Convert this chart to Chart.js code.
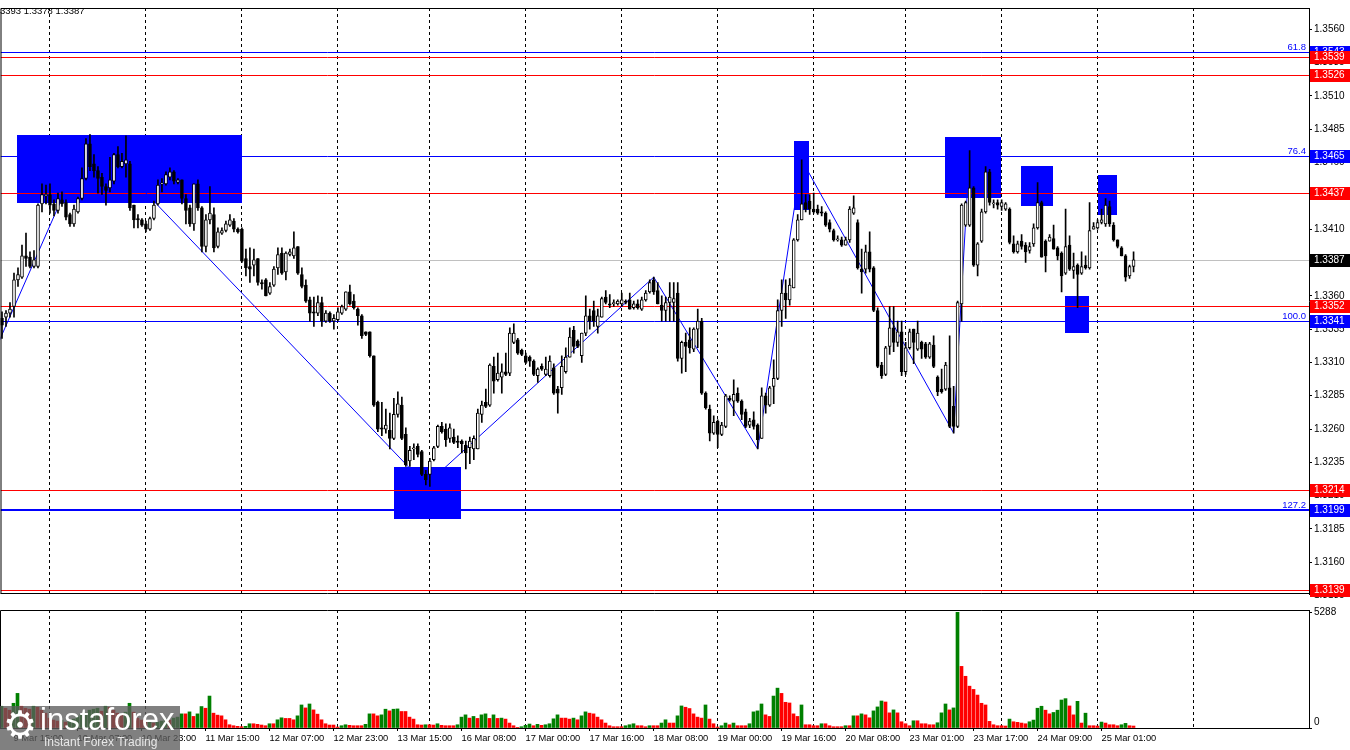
<!DOCTYPE html>
<html>
<head>
<meta charset="utf-8">
<script src="https://cdn.jsdelivr.net/npm/chart.js@4.4.0/dist/chart.umd.min.js"></script>
<style>
html,body{margin:0;padding:0;background:#fff;width:1350px;height:750px;overflow:hidden;}
#p{position:absolute;left:0;top:0;}
#v{position:absolute;left:0;top:602px;}
#logo{position:absolute;left:0;top:706px;width:180px;height:44px;background:rgba(92,92,92,0.78);overflow:hidden;}
#logo .g{position:absolute;left:3px;top:-3px;font:38px 'DejaVu Sans';color:#fff;}
#logo .t{position:absolute;left:40px;top:-4px;font:31px 'Liberation Sans',sans-serif;color:#fff;}
#logo .s{position:absolute;left:44px;top:29px;font:12px 'Liberation Sans',sans-serif;color:#e8e8e8;}
</style>
</head>
<body>
<canvas id="p" width="1350" height="602"></canvas>
<canvas id="v" width="1350" height="148"></canvas>
<div id="logo"><span class="g">&#9881;</span><span class="t">instaforex</span><span class="s">Instant Forex Trading</span></div>
<script>
// ---------------- DATA (GBPUSD H1) ----------------
const openP = [
1.3343,1.3344,1.3347,1.3352,1.3372,1.3374,1.3390,1.3389,1.3382,1.3382,
1.3429,1.3435,1.3436,1.3429,1.3424,1.3432,1.3430,1.3421,1.3414,1.3423,
1.3433,1.3448,1.3474,1.3459,1.3454,1.3449,1.3442,1.3441,1.3446,1.3466,
1.3457,1.3459,1.3459,1.3428,1.3418,1.3417,1.3414,1.3410,1.3418,1.3429,
1.3444,1.3444,1.3449,1.3453,1.3445,1.3447,1.3433,1.3426,1.3414,1.3444,
1.3426,1.3397,1.3417,1.3421,1.3397,1.3407,1.3409,1.3413,1.3416,1.3410,
1.3410,1.3388,1.3382,1.3383,1.3388,1.3370,1.3372,1.3362,1.3368,1.3381,
1.3392,1.3378,1.3391,1.3390,1.3397,1.3376,1.3368,1.3357,1.3348,1.3347,
1.3355,1.3341,1.3347,1.3341,1.3342,1.3347,1.3350,1.3363,1.3356,1.3350,
1.3345,1.3333,1.3333,1.3315,1.3280,1.3261,1.3260,1.3259,1.3253,1.3271,
1.3278,1.3256,1.3236,1.3245,1.3247,1.3243,1.3226,1.3226,1.3237,1.3247,
1.3262,1.3260,1.3253,1.3254,1.3251,1.3251,1.3248,1.3246,1.3245,1.3245,
1.3271,1.3280,1.3278,1.3307,1.3297,1.3299,1.3303,1.3302,1.3325,1.3327,
1.3319,1.3315,1.3314,1.3311,1.3300,1.3307,1.3301,1.3300,1.3306,1.3290,
1.3291,1.3303,1.3314,1.3334,1.3326,1.3315,1.3332,1.3345,1.3349,1.3337,
1.3344,1.3359,1.3354,1.3354,1.3354,1.3354,1.3356,1.3357,1.3351,1.3354,
1.3350,1.3357,1.3363,1.3372,1.3364,1.3353,1.3349,1.3355,1.3355,1.3362,
1.3313,1.3325,1.3327,1.3320,1.3335,1.3341,1.3287,1.3275,1.3257,1.3266,
1.3256,1.3262,1.3283,1.3281,1.3287,1.3281,1.3273,1.3263,1.3267,1.3263,
1.3253,1.3285,1.3278,1.3292,1.3298,1.3349,1.3362,1.3357,1.3366,1.3402,
1.3417,1.3430,1.3431,1.3425,1.3425,1.3423,1.3422,1.3415,1.3409,1.3402,
1.3402,1.3398,1.3402,1.3422,1.3415,1.3380,1.3380,1.3393,1.3381,1.3349,
1.3308,1.3301,1.3322,1.3336,1.3325,1.3333,1.3303,1.3321,1.3335,1.3320,
1.3325,1.3324,1.3314,1.3323,1.3299,1.3290,1.3290,1.3291,1.3277,1.3262,
1.3354,1.3413,1.3413,1.3441,1.3383,1.3401,1.3423,1.3453,1.3429,1.3430,
1.3427,1.3425,1.3425,1.3399,1.3393,1.3401,1.3398,1.3394,1.3399,1.3411,
1.3430,1.3401,1.3401,1.3403,1.3396,1.3392,1.3377,1.3398,1.3379,1.3383,
1.3377,1.3383,1.3381,1.3410,1.3411,1.3415,1.3414,1.3427,1.3413,1.3402,
1.3396,1.3390,1.3375,1.3382];
const highP = [
1.3348,1.3349,1.3355,1.3377,1.3381,1.3398,1.3407,1.3393,1.3394,1.3429,
1.3444,1.3443,1.3444,1.3432,1.3437,1.3438,1.3432,1.3422,1.3428,1.3434,
1.3456,1.3478,1.3481,1.3466,1.3457,1.3452,1.3444,1.3464,1.3467,1.3472,
1.3467,1.3480,1.3461,1.3428,1.3421,1.3418,1.3416,1.3419,1.3431,1.3447,
1.3448,1.3453,1.3456,1.3454,1.3448,1.3447,1.3436,1.3428,1.3444,1.3447,
1.3427,1.3421,1.3442,1.3426,1.3411,1.3411,1.3416,1.3421,1.3418,1.3411,
1.3411,1.3395,1.3396,1.3395,1.3388,1.3372,1.3373,1.3370,1.3382,1.3396,
1.3396,1.3393,1.3395,1.3408,1.3397,1.3381,1.3372,1.3359,1.3359,1.3360,
1.3359,1.3349,1.3348,1.3346,1.3351,1.3353,1.3363,1.3368,1.3361,1.3351,
1.3346,1.3333,1.3333,1.3315,1.3281,1.3280,1.3275,1.3272,1.3283,1.3288,
1.3284,1.3261,1.3247,1.3249,1.3249,1.3244,1.3229,1.3238,1.3247,1.3263,
1.3265,1.3264,1.3264,1.3260,1.3255,1.3252,1.3251,1.3254,1.3255,1.3275,
1.3281,1.3290,1.3309,1.3314,1.3317,1.3309,1.3317,1.3336,1.3339,1.3328,
1.3320,1.3317,1.3315,1.3312,1.3306,1.3309,1.3314,1.3315,1.3309,1.3292,
1.3315,1.3321,1.3336,1.3337,1.3327,1.3332,1.3360,1.3350,1.3356,1.3350,
1.3359,1.3364,1.3361,1.3357,1.3357,1.3362,1.3357,1.3362,1.3356,1.3357,
1.3359,1.3364,1.3372,1.3374,1.3370,1.3360,1.3359,1.3370,1.3370,1.3370,
1.3326,1.3332,1.3336,1.3336,1.3350,1.3343,1.3288,1.3278,1.3270,1.3267,
1.3265,1.3286,1.3285,1.3297,1.3291,1.3282,1.3275,1.3268,1.3273,1.3264,
1.3291,1.3287,1.3292,1.3312,1.3357,1.3372,1.3372,1.3373,1.3403,1.3421,
1.3462,1.3436,1.3436,1.3437,1.3428,1.3427,1.3423,1.3417,1.3410,1.3405,
1.3404,1.3404,1.3427,1.3435,1.3417,1.3395,1.3398,1.3408,1.3382,1.3351,
1.3310,1.3322,1.3352,1.3352,1.3341,1.3341,1.3325,1.3335,1.3335,1.3341,
1.3326,1.3325,1.3325,1.3330,1.3300,1.3305,1.3310,1.3330,1.3292,1.3356,
1.3429,1.3431,1.3469,1.3442,1.3400,1.3425,1.3457,1.3455,1.3432,1.3432,
1.3432,1.3430,1.3426,1.3405,1.3401,1.3406,1.3400,1.3400,1.3414,1.3445,
1.3431,1.3402,1.3406,1.3413,1.3397,1.3393,1.3425,1.3405,1.3392,1.3384,
1.3393,1.3390,1.3430,1.3415,1.3417,1.3425,1.3433,1.3431,1.3415,1.3402,
1.3397,1.3391,1.3383,1.3393];
const lowP = [
1.3328,1.3337,1.3344,1.3344,1.3367,1.3373,1.3382,1.3381,1.3381,1.3381,
1.3423,1.3429,1.3422,1.3420,1.3422,1.3427,1.3417,1.3412,1.3412,1.3422,
1.3432,1.3447,1.3454,1.3449,1.3437,1.3436,1.3428,1.3438,1.3444,1.3456,
1.3456,1.3449,1.3424,1.3411,1.3411,1.3412,1.3408,1.3409,1.3417,1.3428,
1.3438,1.3443,1.3447,1.3444,1.3444,1.3429,1.3414,1.3412,1.3409,1.3424,
1.3393,1.3393,1.3414,1.3393,1.3396,1.3406,1.3408,1.3412,1.3408,1.3407,
1.3385,1.3375,1.3370,1.3375,1.3368,1.3365,1.3360,1.3361,1.3367,1.3376,
1.3376,1.3372,1.3390,1.3388,1.3376,1.3366,1.3355,1.3341,1.3337,1.3345,
1.3337,1.3340,1.3340,1.3335,1.3341,1.3346,1.3349,1.3353,1.3350,1.3338,
1.3328,1.3330,1.3314,1.3277,1.3258,1.3255,1.3257,1.3245,1.3252,1.3269,
1.3252,1.3232,1.3232,1.3237,1.3239,1.3225,1.3218,1.3217,1.3236,1.3246,
1.3257,1.3247,1.3250,1.3249,1.3246,1.3242,1.3230,1.3234,1.3237,1.3245,
1.3265,1.3276,1.3277,1.3287,1.3296,1.3287,1.3300,1.3300,1.3324,1.3316,
1.3315,1.3309,1.3307,1.3300,1.3295,1.3304,1.3300,1.3299,1.3286,1.3272,
1.3286,1.3302,1.3314,1.3317,1.3321,1.3310,1.3330,1.3335,1.3337,1.3332,
1.3344,1.3354,1.3351,1.3352,1.3353,1.3352,1.3354,1.3350,1.3350,1.3350,
1.3349,1.3356,1.3362,1.3361,1.3354,1.3341,1.3341,1.3341,1.3341,1.3311,
1.3302,1.3303,1.3317,1.3318,1.3321,1.3286,1.3275,1.3251,1.3256,1.3246,
1.3255,1.3261,1.3281,1.3270,1.3280,1.3267,1.3261,1.3261,1.3260,1.3245,
1.3253,1.3272,1.3277,1.3279,1.3297,1.3337,1.3343,1.3353,1.3366,1.3401,
1.3417,1.3423,1.3421,1.3422,1.3421,1.3420,1.3412,1.3408,1.3401,1.3401,
1.3397,1.3398,1.3400,1.3421,1.3380,1.3362,1.3377,1.3378,1.3348,1.3306,
1.3298,1.3300,1.3316,1.3318,1.3322,1.3300,1.3301,1.3320,1.3309,1.3319,
1.3313,1.3313,1.3313,1.3306,1.3285,1.3287,1.3289,1.3261,1.3257,1.3261,
1.3341,1.3412,1.3412,1.3382,1.3375,1.3400,1.3422,1.3428,1.3426,1.3425,
1.3424,1.3424,1.3399,1.3392,1.3392,1.3395,1.3385,1.3392,1.3397,1.3410,
1.3389,1.3378,1.3401,1.3395,1.3387,1.3363,1.3376,1.3379,1.3373,1.3351,
1.3376,1.3380,1.3380,1.3410,1.3410,1.3414,1.3412,1.3412,1.3401,1.3396,
1.3390,1.3371,1.3373,1.3378];
const closeP = [
1.3338,1.3347,1.3350,1.3372,1.3376,1.3390,1.3388,1.3382,1.3387,1.3428,
1.3436,1.3436,1.3428,1.3424,1.3433,1.3429,1.3419,1.3414,1.3425,1.3433,
1.3448,1.3474,1.3457,1.3454,1.3448,1.3442,1.3439,1.3447,1.3466,1.3457,
1.3461,1.3462,1.3426,1.3417,1.3417,1.3413,1.3410,1.3418,1.3428,1.3443,
1.3444,1.3451,1.3453,1.3446,1.3447,1.3433,1.3424,1.3414,1.3444,1.3426,
1.3397,1.3417,1.3422,1.3396,1.3408,1.3409,1.3414,1.3417,1.3410,1.3408,
1.3386,1.3381,1.3380,1.3387,1.3370,1.3369,1.3360,1.3367,1.3380,1.3391,
1.3377,1.3392,1.3393,1.3396,1.3377,1.3367,1.3356,1.3347,1.3347,1.3355,
1.3341,1.3347,1.3341,1.3343,1.3348,1.3352,1.3363,1.3354,1.3351,1.3345,
1.3330,1.3331,1.3315,1.3278,1.3260,1.3260,1.3263,1.3253,1.3271,1.3279,
1.3253,1.3233,1.3244,1.3246,1.3241,1.3226,1.3222,1.3236,1.3246,1.3262,
1.3258,1.3252,1.3261,1.3250,1.3250,1.3249,1.3242,1.3251,1.3253,1.3272,
1.3278,1.3277,1.3308,1.3296,1.3302,1.3303,1.3301,1.3332,1.3332,1.3317,
1.3316,1.3310,1.3311,1.3301,1.3305,1.3305,1.3305,1.3311,1.3287,1.3287,
1.3307,1.3314,1.3329,1.3322,1.3322,1.3332,1.3345,1.3341,1.3341,1.3345,
1.3358,1.3355,1.3353,1.3355,1.3356,1.3357,1.3355,1.3350,1.3354,1.3351,
1.3357,1.3362,1.3370,1.3363,1.3354,1.3349,1.3355,1.3359,1.3358,1.3313,
1.3325,1.3322,1.3321,1.3335,1.3341,1.3287,1.3276,1.3257,1.3265,1.3256,
1.3263,1.3285,1.3282,1.3286,1.3281,1.3271,1.3262,1.3266,1.3262,1.3252,
1.3285,1.3278,1.3291,1.3298,1.3349,1.3362,1.3357,1.3368,1.3402,1.3417,
1.3429,1.3425,1.3425,1.3423,1.3422,1.3422,1.3413,1.3410,1.3402,1.3402,
1.3398,1.3402,1.3425,1.3426,1.3381,1.3378,1.3393,1.3380,1.3349,1.3307,
1.3300,1.3321,1.3336,1.3325,1.3333,1.3303,1.3321,1.3333,1.3325,1.3332,
1.3320,1.3314,1.3324,1.3307,1.3288,1.3288,1.3308,1.3262,1.3262,1.3355,
1.3428,1.3430,1.3441,1.3383,1.3399,1.3423,1.3453,1.3430,1.3429,1.3428,
1.3430,1.3429,1.3400,1.3393,1.3399,1.3397,1.3393,1.3397,1.3411,1.3430,
1.3389,1.3390,1.3404,1.3395,1.3390,1.3375,1.3397,1.3380,1.3382,1.3376,
1.3382,1.3381,1.3409,1.3412,1.3415,1.3417,1.3428,1.3414,1.3402,1.3397,
1.3390,1.3374,1.3382,1.3387];
const volumes = [
994,904,814,1130,1582,994,904,859,994,949,814,678,452,362,316,362,271,316,407,542,
633,678,814,859,904,768,994,949,814,678,588,723,1130,723,452,362,271,316,226,271,
316,407,362,452,497,
646,646,737,529,646,981,904,1460,678,588,
556,375,149,104,77,59,77,194,194,167,
136,104,194,194,375,466,438,438,375,556,
1053,918,1098,827,633,375,194,136,136,45,
104,149,122,104,104,104,167,646,646,556,
601,859,782,859,872,755,755,497,407,149,
136,149,149,136,194,122,104,104,104,149,
497,601,452,529,438,601,646,438,601,438,
452,407,226,104,32,59,122,181,104,167,
122,149,194,420,601,452,452,407,
452,375,556,737,678,646,497,375,226,104,
59,59,59,104,149,194,104,104,59,104,
104,104,226,375,226,226,556,1008,949,890,
646,497,452,1053,407,194,45,104,226,149,
226,104,104,104,194,737,782,1098,601,529,
1460,1822,1582,1175,1144,646,529,1053,149,149,
104,104,194,194,104,59,59,59,104,104,
556,556,646,601,466,782,963,1234,1189,692,
827,692,285,194,104,330,330,194,194,149,
149,240,692,1098,827,918,
5288,2816,2364,1912,1763,1505,1130,1053,303,149,
104,104,90,407,285,258,226,194,285,362,
904,994,814,646,710,814,1279,1342,1008,601,
1220,226,678,104,104,90,271,226,149,149,
104,149,212,104,90];
const volumeTop = 5288;

const dayGridIdx = [12,36,60,84,107,131,155,179,203,226,250,274,298];
const timeLabelIdx = [3,19,35,51,67,83,99,115,131,147,163,179,195,211,227,243,259,275];
const timeLabels = ["9 Mar 15:00","10 Mar 07:00","10 Mar 23:00","11 Mar 15:00","12 Mar 07:00","12 Mar 23:00",
  "13 Mar 15:00","16 Mar 08:00","17 Mar 00:00","17 Mar 16:00","18 Mar 08:00","19 Mar 00:00",
  "19 Mar 16:00","20 Mar 08:00","23 Mar 01:00","23 Mar 17:00","24 Mar 09:00","25 Mar 01:00"];
const priceTicks = [1.3135,1.3160,1.3185,1.3210,1.3235,1.3260,1.3285,1.3310,1.3335,1.3360,
  1.3385,1.3410,1.3435,1.3460,1.3485,1.3510,1.3535,1.3560];

const levelPrices = [1.3543,1.3539,1.3526,1.3465,1.3437,1.3387,1.3352,1.3341,1.3214,1.3199,1.3139];
const levelKinds  = ["fib","res","res","fib","res","bid","res","fib","res","fib","res"];
const fibLevelPrices = [1.3543,1.3465,1.3341,1.3199];
const fibLevelTexts  = ["61.8","76.4","100.0","127.2"];

const zoneStart = [3.85, 98, 198, 235.9, 254.9, 265.9, 274.05];
const zoneEnd   = [59.9, 114.8, 201.85, 249.85, 262.85, 271.9, 278.85];
const zoneHigh  = [1.34807, 1.32315, 1.3476, 1.3479, 1.34574, 1.33598, 1.34504];
const zoneLow   = [1.34296, 1.31923, 1.34242, 1.34332, 1.34274, 1.33321, 1.34204];

const zigIdx   = [-1, 22, 106, 163, 189, 200, 238, 242];
const zigPrice = [1.3324, 1.3481, 1.3218, 1.3374, 1.3245, 1.3462, 1.3257, 1.3469];

const headerText = "3393 1.3378 1.3387";

// ---------------- STYLE / LAYOUT ----------------
const FONT = "'Liberation Sans', Arial, sans-serif";
const KIND_COLOR = {fib:'#0000ff', res:'#ff0000', bid:'#c0c0c0'};
const KIND_BOX = {fib:'#0000ff', res:'#ff0000', bid:'#000000'};
const X0 = 1.5, PXB = 4;               // first bar centre, pixels per bar
const P_REF = 1.3560, Y_REF = 29.3, PX_PER_UNIT = 13325;
const VOL_TOP_Y = 10.3;                // local y of volumeTop in volume canvas
const AXIS_W = 41;

Chart.defaults.font.family = FONT;
Chart.defaults.color = '#000';

const N = closeP.length;
const idx = Array.from({length:N}, (_, i) => i);
const bodies = idx.map(i => ({x:i, y:[openP[i], closeP[i]]}));
const wicks  = idx.map(i => ({x:i, y:[lowP[i], highP[i]]}));
const bodyColors = idx.map(i => closeP[i] >= openP[i] ? '#ffffff' : '#000000');
const zig = zigIdx.map((v, k) => ({x:v, y:zigPrice[k]}));
const vols = volumes.map((v, i) => ({x:i, y:v}));
const volColors = volumes.map((v, i) => (i === 0 || v > volumes[i-1]) ? '#008000' : '#ff0000');

function hLine(ctx, a, y, w, color) {
  ctx.strokeStyle = color; ctx.lineWidth = w;
  const yy = Math.round(y) + (w % 2 ? 0.5 : 0);
  ctx.beginPath(); ctx.moveTo(a.left, yy); ctx.lineTo(a.right, yy); ctx.stroke();
}

const pricePlugin = {
  id: 'pricePlugin',
  beforeDatasetsDraw(chart) {
    const {ctx, chartArea: a, scales: {x, y}} = chart;
    ctx.save();
    ctx.beginPath(); ctx.rect(a.left, a.top, a.right - a.left, a.bottom - a.top); ctx.clip();
    ctx.fillStyle = '#0000ff';
    for (let k = 0; k < zoneStart.length; k++) {
      const x0 = Math.round(x.getPixelForValue(zoneStart[k]));
      const x1 = Math.round(x.getPixelForValue(zoneEnd[k]));
      const y0 = Math.round(y.getPixelForValue(zoneHigh[k]));
      const y1 = Math.round(y.getPixelForValue(zoneLow[k]));
      ctx.fillRect(x0, y0, x1 - x0, y1 - y0);
    }
    for (let k = 0; k < levelPrices.length; k++) {
      const w = levelPrices[k] === 1.3199 ? 2 : 1;
      hLine(ctx, a, y.getPixelForValue(levelPrices[k]), w, KIND_COLOR[levelKinds[k]]);
    }
    ctx.restore();
  },
  afterDraw(chart) {
    const {ctx, chartArea: a, scales: {y}} = chart;
    ctx.save();
    // frame
    ctx.strokeStyle = '#000'; ctx.lineWidth = 1;
    ctx.beginPath();
    ctx.moveTo(a.left + 0.5, a.bottom - 0.5); ctx.lineTo(a.left + 0.5, a.top + 0.5); ctx.lineTo(a.right, a.top + 0.5);
    ctx.moveTo(a.left, a.bottom - 0.5); ctx.lineTo(a.right, a.bottom - 0.5);
    ctx.stroke();
    // fibo texts
    ctx.font = "9.5px " + FONT; ctx.fillStyle = '#0000ff'; ctx.textAlign = 'right'; ctx.textBaseline = 'alphabetic';
    fibLevelPrices.forEach((p, k) => {
      ctx.fillText(fibLevelTexts[k], a.right - 3, Math.round(y.getPixelForValue(p)) - 2);
    });
    // axis price boxes
    ctx.font = "10px " + FONT; ctx.textAlign = 'left'; ctx.textBaseline = 'middle';
    levelPrices.forEach((p, k) => {
      const yy = Math.round(y.getPixelForValue(p));
      ctx.fillStyle = KIND_BOX[levelKinds[k]];
      ctx.fillRect(a.right + 1, yy - 6, chart.width - a.right - 1, 13);
      ctx.fillStyle = '#ffffff';
      ctx.fillText(p.toFixed(4), a.right + 5, yy + 0.5);
    });
    // header
    ctx.font = "9.5px " + FONT; ctx.fillStyle = '#000'; ctx.textBaseline = 'alphabetic';
    ctx.fillText(headerText, 0, 14);
    ctx.restore();
  }
};

const volPlugin = {
  id: 'volPlugin',
  afterDraw(chart) {
    const {ctx, chartArea: a} = chart;
    ctx.save();
    ctx.strokeStyle = '#000'; ctx.lineWidth = 1;
    ctx.beginPath();
    ctx.moveTo(a.left + 0.5, a.bottom); ctx.lineTo(a.left + 0.5, a.top + 0.5); ctx.lineTo(a.right, a.top + 0.5);
    ctx.stroke();
    ctx.restore();
  }
};

const commonXGrid = {
  type: 'linear', offset: false, min: -0.375, max: 326.875,
  grid: {display: true, offset: false, drawOnChartArea: true, drawTicks: false, color: '#000', lineWidth: 1},
  border: {display: false, dash: [3, 3]},
  ticks: {display: false},
  afterBuildTicks: s => { s.ticks = dayGridIdx.map(v => ({value: v})); },
  afterFit: s => { s.height = 0; }
};

const priceChart = new Chart(document.getElementById('p'), {
  type: 'bar',
  data: {
    datasets: [
      {type: 'bar', data: bodies, backgroundColor: bodyColors, borderColor: '#000', borderWidth: 1,
       borderSkipped: false, barThickness: 3, minBarLength: 1, grouped: false, order: 0},
      {type: 'bar', data: wicks, backgroundColor: '#000', borderWidth: 0, barThickness: 1,
       grouped: false, order: 1},
      {type: 'line', data: zig, borderColor: '#0000ff', borderWidth: 1, pointRadius: 0,
       tension: 0, fill: false, order: 2}
    ]
  },
  options: {
    responsive: false, animation: false, devicePixelRatio: 1, events: [],
    layout: {padding: {top: 1, bottom: 1, left: 0, right: 0}},
    plugins: {legend: {display: false}, tooltip: {enabled: false}, title: {display: false}},
    scales: {
      x: Object.assign({}, commonXGrid),
      y: {
        type: 'linear', position: 'right', min: 1.31302, max: 1.35798,
        grid: {drawOnChartArea: false, drawTicks: true, tickLength: 3, color: '#000'},
        border: {display: true, color: '#000', width: 1},
        ticks: {color: '#000', font: {size: 10, family: FONT}, padding: 2, autoSkip: false,
                callback: v => Number(v).toFixed(4)},
        afterBuildTicks: s => { s.ticks = priceTicks.map(v => ({value: v})); },
        afterFit: s => { s.width = AXIS_W; }
      }
    }
  },
  plugins: [pricePlugin]
});

const volChart = new Chart(document.getElementById('v'), {
  type: 'bar',
  data: {
    datasets: [
      {type: 'bar', data: vols, backgroundColor: volColors, borderWidth: 0, barThickness: 3,
       grouped: false, xAxisID: 'x', yAxisID: 'y'}
    ]
  },
  options: {
    responsive: false, animation: false, devicePixelRatio: 1, events: [],
    layout: {padding: {top: 2, bottom: 0, left: 0, right: 0}},
    plugins: {legend: {display: false}, tooltip: {enabled: false}},
    scales: {
      x: {
        type: 'linear', position: 'bottom', offset: false, min: -0.375, max: 326.875,
        grid: {display: true, offset: false, drawOnChartArea: false, drawTicks: true, tickLength: 3, color: '#000'},
        border: {display: true, color: '#000', width: 1},
        ticks: {color: '#000', font: {size: 9.3, family: FONT}, align: 'start', padding: 2,
                autoSkip: false, maxRotation: 0, minRotation: 0,
                callback: v => { const k = timeLabelIdx.indexOf(v); return k >= 0 ? timeLabels[k] : ''; }},
        afterBuildTicks: s => { s.ticks = timeLabelIdx.map(v => ({value: v})); },
        afterFit: s => { s.height = 22; }
      },
      xg: Object.assign({}, commonXGrid, {position: 'bottom'}),
      y: {
        type: 'linear', position: 'right', min: 0, max: 5667,
        grid: {drawOnChartArea: false, drawTicks: true, tickLength: 3, color: '#000'},
        border: {display: true, color: '#000', width: 1},
        ticks: {color: '#000', font: {size: 10, family: FONT}, padding: 2, autoSkip: false,
                callback: v => v === 0 ? ['0', ''] : String(v)},
        afterBuildTicks: s => { s.ticks = [0, volumeTop].map(v => ({value: v})); },
        afterFit: s => { s.width = AXIS_W; }
      }
    }
  },
  plugins: [volPlugin]
});

// calibrate scales to the reference pixel grid
function calibrate() {
  const a = priceChart.chartArea;
  const sx = priceChart.options.scales;
  sx.x.min = (a.left - X0) / PXB; sx.x.max = (a.right - X0) / PXB;
  sx.y.max = P_REF + (Y_REF - a.top) / PX_PER_UNIT;
  sx.y.min = P_REF - (a.bottom - Y_REF) / PX_PER_UNIT;
  priceChart.update('none');
  const b = volChart.chartArea;
  const sv = volChart.options.scales;
  sv.x.min = sv.xg.min = (b.left - X0) / PXB;
  sv.x.max = sv.xg.max = (b.right - X0) / PXB;
  sv.y.min = 0;
  sv.y.max = volumeTop * (b.bottom - b.top) / (b.bottom - VOL_TOP_Y);
  volChart.update('none');
}
calibrate();
</script>
</body>
</html>
